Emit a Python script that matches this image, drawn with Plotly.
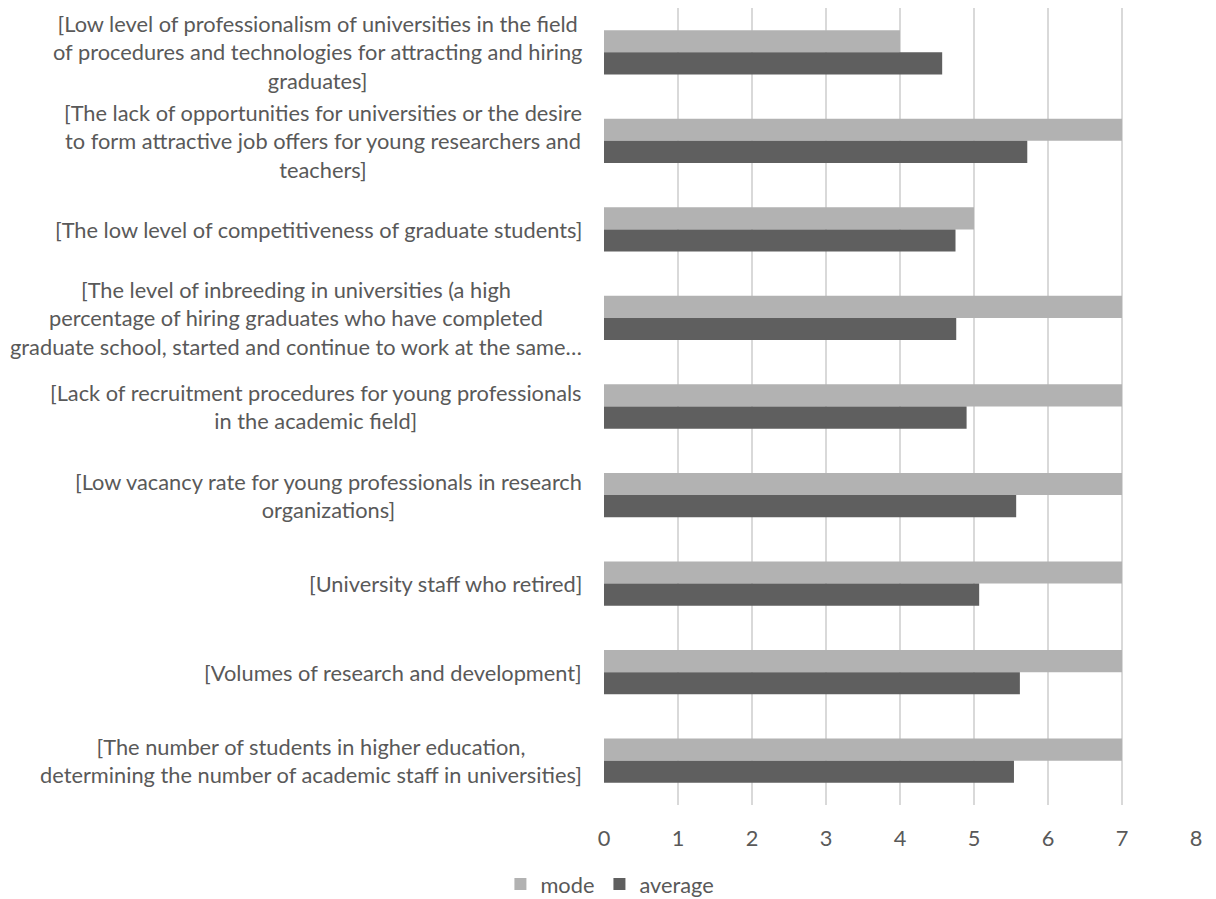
import plotly.graph_objects as go

categories = [
    "[Low level of professionalism of universities in the field<br>of procedures and technologies for attracting and hiring<br>graduates]",
    "[The lack of opportunities for universities or the desire<br>to form attractive job offers for young researchers and<br>teachers]",
    "[The low level of competitiveness of graduate students]",
    "[The level of inbreeding in universities (a high<br>percentage of hiring graduates who have completed<br>graduate school, started and continue to work at the same…",
    "[Lack of recruitment procedures for young professionals<br>in the academic field]",
    "[Low vacancy rate for young professionals in research<br>organizations]",
    "[University staff who retired]",
    "[Volumes of research and development]",
    "[The number of students in higher education,<br>determining the number of academic staff in universities]",
]
mode_values = [4, 7, 5, 7, 7, 7, 7, 7, 7]
average_values = [4.57, 5.72, 4.75, 4.76, 4.90, 5.57, 5.07, 5.62, 5.54]
x_ticks = [0, 1, 2, 3, 4, 5, 6, 7, 8]

FONT = "Lato"
TXT = "#595959"
FS = 21.8

fig = go.Figure()
fig.add_trace(go.Bar(y=categories, x=mode_values, orientation="h", name="mode",
                     marker=dict(color="#B2B2B2", line=dict(width=0))))
fig.add_trace(go.Bar(y=categories, x=average_values, orientation="h", name="average",
                     marker=dict(color="#5F5F5F", line=dict(width=0))))

for c in categories:
    fig.add_annotation(x=0, xref="paper", xshift=-20, y=c, yref="y", text=c,
                       showarrow=False, xanchor="right", yanchor="middle", align="center",
                       font=dict(family=FONT, size=FS, color=TXT))

fig.update_layout(
    width=1216, height=899,
    margin=dict(l=604, r=20, t=8, b=94, autoexpand=False),
    paper_bgcolor="white", plot_bgcolor="white",
    barmode="group", bargap=0.5, bargroupgap=0,
    font=dict(family=FONT, size=FS, color=TXT),
    legend=dict(orientation="h", x=0.01, xanchor="center", y=-0.126, yanchor="bottom",
                bgcolor="rgba(0,0,0,0)",
                font=dict(family=FONT, size=FS, color=TXT), traceorder="normal",
                itemwidth=30),
    showlegend=True,
)
fig.update_xaxes(range=[0, 8], tickvals=x_ticks, showgrid=True, gridcolor="#D9D9D9", gridwidth=1.5,
                 zeroline=False, showline=False, ticks="", ticklabelstandoff=18,
                 tickfont=dict(family=FONT, size=FS, color=TXT))
fig.update_yaxes(autorange="reversed", showticklabels=False, showgrid=False, ticks="", showline=False)

fig.write_html("out.html")
